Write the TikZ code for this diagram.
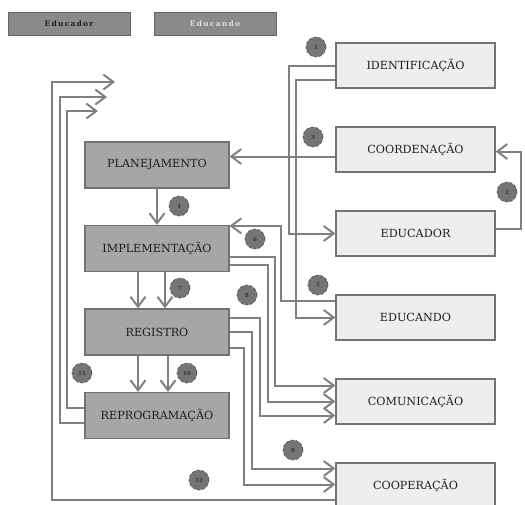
\documentclass[tikz,border=0pt]{standalone}
\usepackage{fontspec}
\setmainfont{DejaVu Serif}
\usetikzlibrary{positioning,arrows.meta}
\definecolor{linegray}{HTML}{808080}
\definecolor{boxdark}{HTML}{A6A6A6}
\definecolor{boxlight}{HTML}{EEEEEE}
\definecolor{legdark}{HTML}{8A8A8A}
\definecolor{numfill}{HTML}{757575}
\definecolor{txtgray}{HTML}{1E1E1E}
\tikzset{
    rbox/.style={draw=gray!90!black, line width=1.2pt, fill=boxlight, minimum width=159pt, minimum height=45pt, inner sep=0pt, text=txtgray, font=\fontsize{11.2}{13}\selectfont},
    lbox/.style={rbox, fill=boxdark, minimum width=144pt, minimum height=46pt},
    leg/.style={draw=black!60, line width=1pt, fill=legdark, minimum width=122pt, minimum height=23pt, inner sep=0pt, font=\fontsize{7.5}{9}\selectfont\bfseries},
    num/.style={circle, draw=black!70, densely dashed, line width=0.6pt, fill=numfill, minimum size=20pt, inner sep=0pt, text=black!80, font=\fontsize{5.5}{6}\selectfont\bfseries},
    ln/.style={draw=linegray, line width=2pt},
    arr/.style={ln, -{Straight Barb[length=10pt,width=15pt]}}
}
\begin{document}
\begin{tikzpicture}[x=1pt,y=1pt]
        \useasboundingbox (0,0) rectangle (525,-504);
        \node[leg, text=txtgray] (lgr) at (69,-23.5) {E\,d\,u\,c\,a\,d\,o\,r};
        \node[leg, text=black!12, right=23pt of lgr] (lgn) {E\,d\,u\,c\,a\,n\,d\,o};
        \node[rbox] (id) at (415.5,-65.5) {IDENTIFICAÇÃO};
        \node[rbox, below=37.8pt of id] (co) {COORDENAÇÃO};
        \node[rbox, below=37.8pt of co] (ed) {EDUCADOR};
        \node[rbox, below=37.8pt of ed] (en) {EDUCANDO};
        \node[rbox, below=37.8pt of en] (cm) {COMUNICAÇÃO};
        \node[rbox, below=37.8pt of cm] (cp) {COOPERAÇÃO};
        \node[lbox] (pl) at (157,-165) {PLANEJAMENTO};
        \node[lbox, below=36.3pt of pl] (im) {IMPLEMENTAÇÃO};
        \node[lbox, below=36.3pt of im] (rg) {REGISTRO};
        \node[lbox, below=36.3pt of rg] (rp) {REPROGRAMAÇÃO};
        \coordinate (t1) at (115,-82);
        \coordinate (t2) at (107,-97);
        \coordinate (t3) at (98,-111);
        \draw[arr] (id.west) -- ++(-46,0) |- (ed.west);
        \draw[arr] ([yshift=-14pt]id.west) -- ++(-39,0) |- (en.west);
        \draw[arr] ([yshift=5pt]ed.east) -- ++(25,0) |- ([yshift=-2pt]co.east);
        \draw[arr] ([yshift=-7pt]co.west) -- ([yshift=-7pt]co.west -| pl.east);
        \draw[arr] (pl.south) -- (im.north);
        \draw[arr] ([yshift=17pt]en.west) -- ++(-54,0) |- ([yshift=-1pt]im.north east);
        \draw[arr] ([xshift=-19pt]im.south) -- ([xshift=-19pt]rg.north);
        \draw[arr] ([xshift=8pt]im.south) -- ([xshift=8pt]rg.north);
        \draw[arr] ([yshift=-8pt]im.east) -- ++(45,0) |- ([yshift=16pt]cm.west);
        \draw[arr] ([yshift=-16pt]im.east) -- ++(38,0) |- (cm.west);
        \draw[arr] ([yshift=14pt]rg.east) -- ++(30,0) |- ([yshift=-14pt]cm.west);
        \draw[arr] (rg.east) -- ++(22,0) |- ([yshift=17pt]cp.west);
        \draw[arr] ([yshift=-16pt]rg.east) -- ++(14,0) |- ([yshift=1pt]cp.west);
        \draw[arr] ([xshift=-19pt]rg.south) -- ([xshift=-19pt]rp.north);
        \draw[arr] ([xshift=11pt]rg.south) -- ([xshift=11pt]rp.north);
        \draw[arr] ([yshift=8pt]rp.west) -- ++(-17,0) |- (t3);
        \draw[arr] ([yshift=-7pt]rp.west) -- ++(-24,0) |- (t2);
        \draw[arr] ([yshift=-14pt]cp.west) -- ++(-283,0) |- (t1);
        \node[num] (n1) at (316,-47) {1};
        \node[num] (n2) at (507,-192) {2};
        \node[num] (n3) at (313,-137) {3};
        \node[num] (n4) at (179,-206) {4};
        \node[num] (n5) at (318,-285) {5};
        \node[num] (n6) at (255,-239) {6};
        \node[num] (n7) at (180,-288) {7};
        \node[num] (n8) at (247,-295) {8};
        \node[num] (n9) at (293,-450) {9};
        \node[num] (n10) at (187,-373) {10};
        \node[num] (n11) at (82,-373) {11};
        \node[num] (n12) at (199,-480) {12};
    \end{tikzpicture}
\end{document}
